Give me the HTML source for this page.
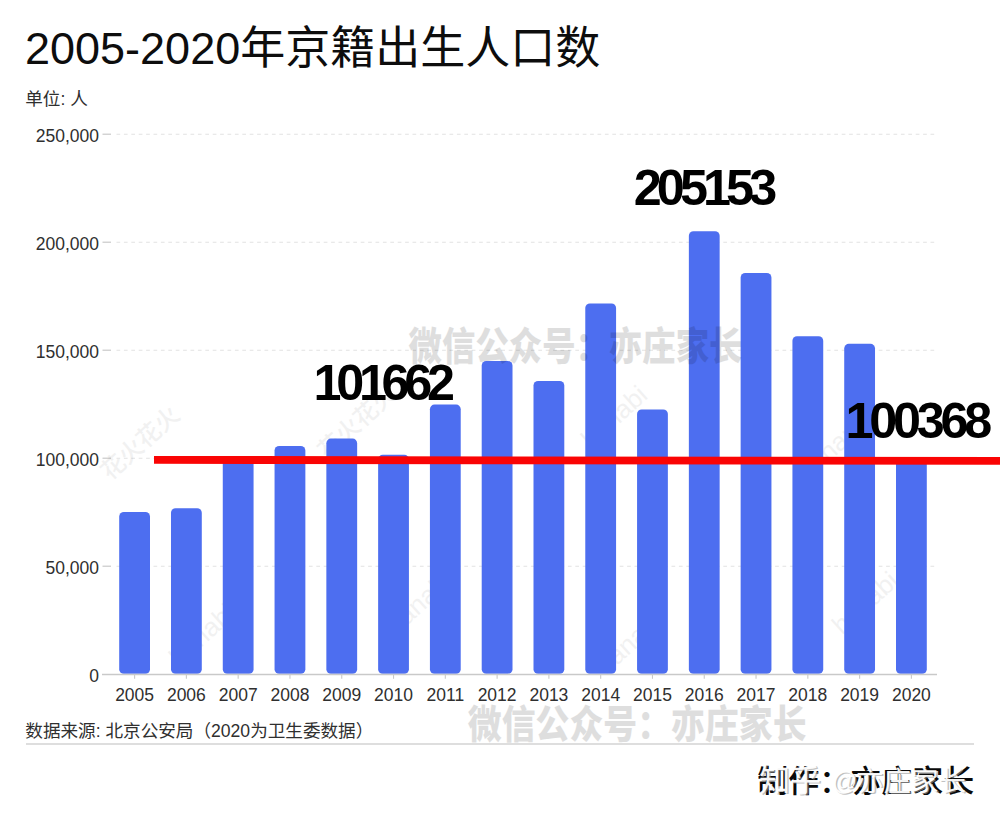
<!DOCTYPE html>
<html lang="zh"><head><meta charset="utf-8"><title>2005-2020年京籍出生人口数</title>
<style>html,body{margin:0;padding:0;background:#fff;font-family:"Liberation Sans",sans-serif;}svg{display:block}text{font-family:"Liberation Sans","Noto Sans CJK SC",sans-serif;}</style>
</head><body>
<svg width="1000" height="822" viewBox="0 0 1000 822" role="img" aria-label="2005-2020年京籍出生人口数"><rect width="1000" height="822" fill="#fff"/><line x1="102.5" x2="111" y1="566.2" y2="566.2" stroke="#c4c4c4" stroke-width="1.1"/>
<line x1="116.5" x2="937" y1="566.2" y2="566.2" stroke="#e2e2e2" stroke-width="1.1" stroke-dasharray="3.7 3.7"/>
<line x1="102.5" x2="111" y1="458.2" y2="458.2" stroke="#c4c4c4" stroke-width="1.1"/>
<line x1="116.5" x2="937" y1="458.2" y2="458.2" stroke="#e2e2e2" stroke-width="1.1" stroke-dasharray="3.7 3.7"/>
<line x1="102.5" x2="111" y1="350.2" y2="350.2" stroke="#c4c4c4" stroke-width="1.1"/>
<line x1="116.5" x2="937" y1="350.2" y2="350.2" stroke="#e2e2e2" stroke-width="1.1" stroke-dasharray="3.7 3.7"/>
<line x1="102.5" x2="111" y1="242.2" y2="242.2" stroke="#c4c4c4" stroke-width="1.1"/>
<line x1="116.5" x2="937" y1="242.2" y2="242.2" stroke="#e2e2e2" stroke-width="1.1" stroke-dasharray="3.7 3.7"/>
<line x1="102.5" x2="111" y1="134.2" y2="134.2" stroke="#c4c4c4" stroke-width="1.1"/>
<line x1="116.5" x2="937" y1="134.2" y2="134.2" stroke="#e2e2e2" stroke-width="1.1" stroke-dasharray="3.7 3.7"/>
<text x="99" y="681.5" font-size="17.5" fill="#2f2f2f" text-anchor="end">0</text>
<text x="99" y="573.5" font-size="17.5" fill="#2f2f2f" text-anchor="end">50,000</text>
<text x="99" y="465.5" font-size="17.5" fill="#2f2f2f" text-anchor="end">100,000</text>
<text x="99" y="357.5" font-size="17.5" fill="#2f2f2f" text-anchor="end">150,000</text>
<text x="99" y="249.5" font-size="17.5" fill="#2f2f2f" text-anchor="end">200,000</text>
<text x="99" y="141.5" font-size="17.5" fill="#2f2f2f" text-anchor="end">250,000</text>
<g transform="translate(140 443) rotate(-42)"><text x="-48" y="8.4" font-size="24" font-weight="500" fill="#000" opacity="0.05">花火花火</text></g>
<g transform="translate(357 422) rotate(-42)"><text x="-48" y="8.4" font-size="24" font-weight="500" fill="#000" opacity="0.05">花火花火</text></g>
<g transform="translate(617 414) rotate(-42)"><text x="-43.06" y="9.1" font-size="26" font-weight="500" fill="#000" opacity="0.05">hanabi</text></g>
<g transform="translate(840 440) rotate(-42)"><text x="-23.66" y="9.1" font-size="26" font-weight="500" fill="#000" opacity="0.05">han</text></g>
<g transform="translate(205 632) rotate(-42)"><text x="-43.06" y="9.1" font-size="26" font-weight="500" fill="#000" opacity="0.05">hanabi</text></g>
<g transform="translate(422 600) rotate(-42)"><text x="-43.06" y="9.1" font-size="26" font-weight="500" fill="#000" opacity="0.05">hanabi</text></g>
<g transform="translate(632 640) rotate(-42)"><text x="-43.06" y="9.1" font-size="26" font-weight="500" fill="#000" opacity="0.05">hanabi</text></g>
<g transform="translate(868 600) rotate(-42)"><text x="-43.06" y="9.1" font-size="26" font-weight="500" fill="#000" opacity="0.05">hanabi</text></g>
<rect x="119.20" y="512" width="30.8" height="161.80" rx="4.6" fill="#4d6ef0"/>
<rect x="170.99" y="508.2" width="30.8" height="165.60" rx="4.6" fill="#4d6ef0"/>
<rect x="222.77" y="458.5" width="30.8" height="215.30" rx="4.6" fill="#4d6ef0"/>
<rect x="274.56" y="446" width="30.8" height="227.80" rx="4.6" fill="#4d6ef0"/>
<rect x="326.35" y="438.6" width="30.8" height="235.20" rx="4.6" fill="#4d6ef0"/>
<rect x="378.13" y="454.8" width="30.8" height="219.00" rx="4.6" fill="#4d6ef0"/>
<rect x="429.92" y="404.6" width="30.8" height="269.20" rx="4.6" fill="#4d6ef0"/>
<rect x="481.71" y="361" width="30.8" height="312.80" rx="4.6" fill="#4d6ef0"/>
<rect x="533.50" y="381" width="30.8" height="292.80" rx="4.6" fill="#4d6ef0"/>
<rect x="585.28" y="303.4" width="30.8" height="370.40" rx="4.6" fill="#4d6ef0"/>
<rect x="637.07" y="409.5" width="30.8" height="264.30" rx="4.6" fill="#4d6ef0"/>
<rect x="688.86" y="231.2" width="30.8" height="442.60" rx="4.6" fill="#4d6ef0"/>
<rect x="740.64" y="273" width="30.8" height="400.80" rx="4.6" fill="#4d6ef0"/>
<rect x="792.43" y="336.2" width="30.8" height="337.60" rx="4.6" fill="#4d6ef0"/>
<rect x="844.22" y="343.8" width="30.8" height="330.00" rx="4.6" fill="#4d6ef0"/>
<rect x="896.00" y="457.6" width="30.8" height="216.20" rx="4.6" fill="#4d6ef0"/>
<line x1="102" x2="937" y1="674.5" y2="674.5" stroke="#c9c9c9" stroke-width="1.3"/>
<line x1="134.60" x2="134.60" y1="674.0" y2="678.8" stroke="#c9c9c9" stroke-width="1.1"/>
<text x="134.60" y="701.4" font-size="17.5" fill="#2f2f2f" text-anchor="middle">2005</text>
<line x1="186.39" x2="186.39" y1="674.0" y2="678.8" stroke="#c9c9c9" stroke-width="1.1"/>
<text x="186.39" y="701.4" font-size="17.5" fill="#2f2f2f" text-anchor="middle">2006</text>
<line x1="238.17" x2="238.17" y1="674.0" y2="678.8" stroke="#c9c9c9" stroke-width="1.1"/>
<text x="238.17" y="701.4" font-size="17.5" fill="#2f2f2f" text-anchor="middle">2007</text>
<line x1="289.96" x2="289.96" y1="674.0" y2="678.8" stroke="#c9c9c9" stroke-width="1.1"/>
<text x="289.96" y="701.4" font-size="17.5" fill="#2f2f2f" text-anchor="middle">2008</text>
<line x1="341.75" x2="341.75" y1="674.0" y2="678.8" stroke="#c9c9c9" stroke-width="1.1"/>
<text x="341.75" y="701.4" font-size="17.5" fill="#2f2f2f" text-anchor="middle">2009</text>
<line x1="393.53" x2="393.53" y1="674.0" y2="678.8" stroke="#c9c9c9" stroke-width="1.1"/>
<text x="393.53" y="701.4" font-size="17.5" fill="#2f2f2f" text-anchor="middle">2010</text>
<line x1="445.32" x2="445.32" y1="674.0" y2="678.8" stroke="#c9c9c9" stroke-width="1.1"/>
<text x="445.32" y="701.4" font-size="17.5" fill="#2f2f2f" text-anchor="middle">2011</text>
<line x1="497.11" x2="497.11" y1="674.0" y2="678.8" stroke="#c9c9c9" stroke-width="1.1"/>
<text x="497.11" y="701.4" font-size="17.5" fill="#2f2f2f" text-anchor="middle">2012</text>
<line x1="548.90" x2="548.90" y1="674.0" y2="678.8" stroke="#c9c9c9" stroke-width="1.1"/>
<text x="548.90" y="701.4" font-size="17.5" fill="#2f2f2f" text-anchor="middle">2013</text>
<line x1="600.68" x2="600.68" y1="674.0" y2="678.8" stroke="#c9c9c9" stroke-width="1.1"/>
<text x="600.68" y="701.4" font-size="17.5" fill="#2f2f2f" text-anchor="middle">2014</text>
<line x1="652.47" x2="652.47" y1="674.0" y2="678.8" stroke="#c9c9c9" stroke-width="1.1"/>
<text x="652.47" y="701.4" font-size="17.5" fill="#2f2f2f" text-anchor="middle">2015</text>
<line x1="704.26" x2="704.26" y1="674.0" y2="678.8" stroke="#c9c9c9" stroke-width="1.1"/>
<text x="704.26" y="701.4" font-size="17.5" fill="#2f2f2f" text-anchor="middle">2016</text>
<line x1="756.04" x2="756.04" y1="674.0" y2="678.8" stroke="#c9c9c9" stroke-width="1.1"/>
<text x="756.04" y="701.4" font-size="17.5" fill="#2f2f2f" text-anchor="middle">2017</text>
<line x1="807.83" x2="807.83" y1="674.0" y2="678.8" stroke="#c9c9c9" stroke-width="1.1"/>
<text x="807.83" y="701.4" font-size="17.5" fill="#2f2f2f" text-anchor="middle">2018</text>
<line x1="859.62" x2="859.62" y1="674.0" y2="678.8" stroke="#c9c9c9" stroke-width="1.1"/>
<text x="859.62" y="701.4" font-size="17.5" fill="#2f2f2f" text-anchor="middle">2019</text>
<line x1="911.40" x2="911.40" y1="674.0" y2="678.8" stroke="#c9c9c9" stroke-width="1.1"/>
<text x="911.40" y="701.4" font-size="17.5" fill="#2f2f2f" text-anchor="middle">2020</text>
<text x="25" y="64" font-size="45" fill="#0d0d0d">2005-2020年京籍出生人口数</text>
<text x="25.2" y="105.3" font-size="17.6" fill="#2f2f2f">单位: 人</text>
<text x="25.3" y="737.3" font-size="17.6" fill="#2f2f2f">数据来源: 北京公安局（2020为卫生委数据）</text>
<rect x="26" y="743" width="948" height="2" fill="#dedede"/>
<polygon points="154,456 1000,457 1000,464.8 154,463.8" fill="#fa0404"/>
<text x="633.8" y="205.3" font-size="50.3" font-weight="bold" letter-spacing="-4.9" fill="#000">205153</text>
<text x="313.6" y="400.3" font-size="50.3" font-weight="bold" letter-spacing="-5.3" fill="#000">101662</text>
<text x="845.5" y="438.3" font-size="50.3" font-weight="bold" letter-spacing="-4.2" fill="#000">100368</text>
<text transform="translate(408.6 359.5) scale(0.852 1)" x="0" y="0" font-size="39.2" font-weight="900" fill="#000" opacity="0.125">微信公众号：亦庄家长</text>
<text transform="translate(467.8 738.2) scale(0.8645 1)" x="0" y="0" font-size="39.2" font-weight="900" fill="#000" opacity="0.125">微信公众号：亦庄家长</text>
<text x="757.3" y="792.2" font-size="31" font-weight="500" fill="#0a0a0a">制作：亦庄家长</text>
<text x="760.5" y="792.3" font-size="31" fill="#9a9a9a" opacity="0.6">知乎</text>
<text x="833.5" y="790.8" font-size="25" fill="#9a9a9a" opacity="0.6">@</text>
<text x="857.5" y="792.3" font-size="27.5" fill="#9a9a9a" opacity="0.6">亦庄家长</text>
<text x="759" y="791" font-size="31" fill="#fff" opacity="0.95">知乎</text>
<text x="832" y="789.5" font-size="25" fill="#fff" opacity="0.95">@</text>
<text x="856" y="791" font-size="27.5" fill="#fff" opacity="0.95">亦庄家长</text></svg>
</body></html>
